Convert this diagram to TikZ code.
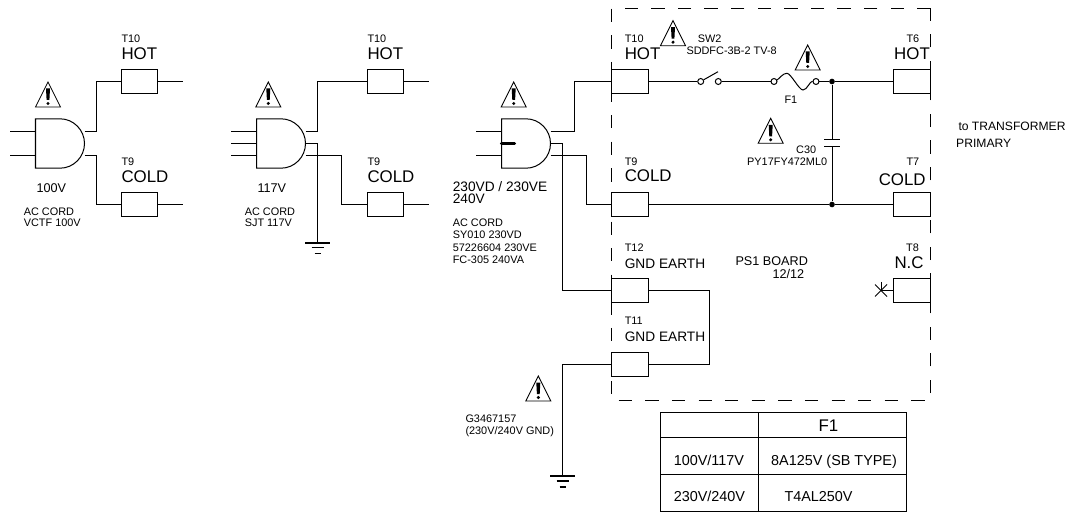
\documentclass[tikz,border=0pt]{standalone}
\usepackage{fontspec}
\setmainfont{Liberation Sans}
\tikzset{
	smalltxt/.style={anchor=base west, inner sep=0pt, font=\fontsize{6.2pt}{7pt}\selectfont},
	midtxt/.style={anchor=base west, inner sep=0pt, font=\fontsize{7.2pt}{8pt}\selectfont},
	sidetxt/.style={anchor=base west, inner sep=0pt, font=\fontsize{6.9pt}{8pt}\selectfont},
	gndtxt/.style={anchor=base west, inner sep=0pt, font=\fontsize{7.8pt}{9pt}\selectfont},
	tabtxt/.style={anchor=base west, inner sep=0pt, font=\fontsize{8.2pt}{9pt}\selectfont},
	bigtxt/.style={anchor=base west, inner sep=0pt, font=\fontsize{9.6pt}{10pt}\selectfont},
	termbox/.style={draw, minimum width=21.05pt, minimum height=14.1pt, inner sep=0pt},
	ring/.style={draw, circle, minimum size=3.4pt, inner sep=0pt},
	junction/.style={fill, circle, minimum size=3.2pt, inner sep=0pt},
	boardline/.style={line width=0.7pt, dash pattern=on 7.57pt off 7.57pt},
	warnsign/.pic={
		\draw[line width=0.5pt, line join=miter] (0,0) -- (12.5,25) -- (-12.5,25) -- cycle;
		\fill (-2,6.5) -- (2,6.5) -- (1.4,18) -- (-1.4,18) -- cycle;
		\fill (0,21.5) circle (1.7);
	},
	earthsym/.pic={
		\draw[line width=1pt] (-12.5,0) -- (12.5,0);
		\draw (-6,5) -- (6,5);
		\draw (-3,11) -- (3,11);
	},
	plugbody/.pic={
		\draw (0,-24.7) -- (24.5,-24.7) .. controls (38,-24.7) and (49,-13.5) .. (49,0)
			.. controls (49,13.5) and (38,24.7) .. (24.5,24.7) -- (0,24.7) -- cycle;
		\coordinate (-hot) at (49,-12);
		\coordinate (-mid) at (49,0);
		\coordinate (-cold) at (49,12);
		\coordinate (-inA) at (0,-12);
		\coordinate (-inB) at (0,0);
		\coordinate (-inC) at (0,12);
	}
}
\begin{document}
\begin{tikzpicture}[x=0.02cm, y=-0.02cm, line width=0.57pt]
	\useasboundingbox (0,0) rectangle (1080,517);
	% Platine
	\draw[boardline] (930.5,8.5) -- (611.5,8.5) -- (611.5,400.5) -- (930.5,400.5) -- cycle;
	% Warnzeichen
	\foreach \wx/\wy in {48/82, 268.3/82, 513.7/82, 673/20.7, 807.7/45, 770.7/118.3, 538.3/376}
		\pic at (\wx,\wy) {warnsign};
	% Stecker
	\pic (pa) at (35.5,143.5) {plugbody};
	\pic (pb) at (256.5,143.5) {plugbody};
	\pic (pc) at (501.5,143.5) {plugbody};
	% Klemmen
	\node[termbox] (tenA) at (139.5,81.5) {};
	\node[termbox] (nineA) at (139.5,204.5) {};
	\node[termbox] (tenB) at (385.5,81.5) {};
	\node[termbox] (nineB) at (385.5,204.5) {};
	\node[termbox] (tenC) at (630,81.5) {};
	\node[termbox] (nineC) at (630,204.5) {};
	\node[termbox] (twelve) at (630,290.5) {};
	\node[termbox] (eleven) at (630,364.5) {};
	\node[termbox] (six) at (911.8,81.5) {};
	\node[termbox] (seven) at (911.8,204.5) {};
	\node[termbox] (eight) at (911.8,290.5) {};
	% Stecker links
	\coordinate (inAa) at (10,131.5);
	\coordinate (inAb) at (10,155.5);
	\draw (inAa) -- (pa-inA);
	\draw (inAb) -- (pa-inC);
	\draw (pa-hot) -- ++(12,0) |- (tenA.west);
	\draw (pa-cold) -- ++(12,0) |- (nineA.west);
	\draw (tenA.east) -- ++(25,0) coordinate (endAa);
	\draw (nineA.east) -- ++(25,0) coordinate (endAb);
	% Stecker Mitte
	\coordinate (inBa) at (231,131.5);
	\coordinate (inBb) at (231,143.5);
	\coordinate (inBc) at (231,155.5);
	\draw (inBa) -- (pb-inA);
	\draw (inBb) -- (pb-inB);
	\draw (inBc) -- (pb-inC);
	\draw (pb-hot) -- ++(12,0) |- (tenB.west);
	\draw (pb-cold) -- ++(36,0) |- (nineB.west);
	\draw (tenB.east) -- ++(25,0) coordinate (endBa);
	\draw (nineB.east) -- ++(25,0) coordinate (endBb);
	\coordinate (gndB) at (317.5,242.7);
	\draw (pb-mid) -| (gndB);
	\pic at (gndB) {earthsym};
	% Stecker rechts
	\coordinate (inCa) at (476,131.5);
	\coordinate (inCb) at (476,155.5);
	\draw (inCa) -- (pc-inA);
	\draw (inCb) -- (pc-inC);
	\draw[line width=1.8pt, line cap=round] (pc-inB) -- ++(13,0);
	\draw (pc-hot) -- ++(24,0) |- (tenC.west);
	\draw (pc-cold) -- ++(36,0) |- (nineC.west);
	\coordinate (gndC) at (562.5,476);
	\draw (pc-mid) -| (gndC |- twelve.west) -- (twelve.west);
	\draw (twelve.east) -- ++(60.6,0) |- (eleven.east);
	\draw (eleven.west) -| (gndC);
	\pic at (gndC) {earthsym};
	% Schalter, Sicherung, Kondensator
	\node[ring] (swA) at (700.7,81.5) {};
	\node[ring] (swB) at (718.3,81.5) {};
	\node[ring] (fuA) at (774,81.5) {};
	\node[ring] (fuB) at (816,81.5) {};
	\node[junction] (dotA) at (832,81.5) {};
	\node[junction] (dotB) at (832,204.5) {};
	\coordinate (capA) at (832,139.5);
	\coordinate (capB) at (832,146.5);
	\draw (tenC.east) -- (swA);
	\draw (swA) -- (718,71.7);
	\draw (swB) -- (fuA);
	\draw (fuA) .. controls (779,79) and (783,73) .. (787,73.3)
		.. controls (791,73.5) and (799,90) .. (803,90)
		.. controls (807,90) and (810,81) .. (fuB);
	\draw (fuB) -- (dotA) -- (six.west);
	\draw (nineC.east) -- (dotB) -- (seven.west);
	\draw (dotA) -- (capA);
	\draw (capB) -- (dotB);
	\draw (824,139.5) -- (840,139.5);
	\draw (824,146.5) -- (840,146.5);
	% N.C Ende
	\coordinate (ncEnd) at (881,290.5);
	\draw (eight.west) -- (ncEnd);
	\draw (875,284.5) -- (887,296.5);
	\draw (887,284.5) -- (875,296.5);
	\draw (881,282) -- (ncEnd);
	% Beschriftung links
	\node[smalltxt] (lbAa) at (121,42.7) {T10};
	\node[bigtxt] (lbAb) at (121,59.3) {HOT};
	\node[smalltxt] (lbAc) at (121,165.7) {T9};
	\node[bigtxt] (lbAd) at (121,182.3) {COLD};
	\node[midtxt] (lbAe) at (36,192.3) {100V};
	\node[smalltxt] (lbAf) at (23.3,215) {AC CORD};
	\node[smalltxt] (lbAg) at (23.3,226.7) {VCTF 100V};
	% Beschriftung Mitte
	\node[smalltxt] (lbBa) at (367,42.7) {T10};
	\node[bigtxt] (lbBb) at (367,59.3) {HOT};
	\node[smalltxt] (lbBc) at (367,165.7) {T9};
	\node[bigtxt] (lbBd) at (367,182.3) {COLD};
	\node[midtxt] (lbBe) at (257,192.3) {117V};
	\node[smalltxt] (lbBf) at (244.3,215) {AC CORD};
	\node[smalltxt] (lbBg) at (244.3,226.7) {SJT 117V};
	% Beschriftung rechts
	\node[gndtxt] (lbCa) at (452.3,191.7) {230VD / 230VE};
	\node[gndtxt] (lbCb) at (452.3,204) {240V};
	\node[smalltxt] (lbCc) at (452.3,226.7) {AC CORD};
	\node[smalltxt] (lbCd) at (452.3,239) {SY010 230VD};
	\node[smalltxt] (lbCe) at (452.3,251.7) {57226604 230VE};
	\node[smalltxt] (lbCf) at (452.3,264) {FC-305 240VA};
	\node[smalltxt] (lbCg) at (465,422.7) {G3467157};
	\node[smalltxt] (lbCh) at (465,435) {(230V/240V GND)};
	% Beschriftung Platine
	\node[smalltxt] (lbDa) at (624.3,42.7) {T10};
	\node[bigtxt] (lbDb) at (624.3,59.3) {HOT};
	\node[smalltxt] (lbDc) at (624.3,165.7) {T9};
	\node[bigtxt] (lbDd) at (624.3,181.7) {COLD};
	\node[smalltxt] (lbDe) at (624.3,251.7) {T12};
	\node[gndtxt] (lbDf) at (624.3,268.3) {GND EARTH};
	\node[smalltxt] (lbDg) at (624.3,324.3) {T11};
	\node[gndtxt] (lbDh) at (624.3,341) {GND EARTH};
	\node[smalltxt] (lbDi) at (697.3,42.7) {SW2};
	\node[smalltxt] (lbDj) at (686,55) {SDDFC-3B-2 TV-8};
	\node[smalltxt] (lbDk) at (784,103.3) {F1};
	\node[smalltxt] (lbDl) at (795.7,153.7) {C30};
	\node[smalltxt] (lbDm) at (746.7,165.7) {PY17FY472ML0};
	\node[smalltxt] (lbDn) at (906,42.7) {T6};
	\node[bigtxt] (lbDo) at (893.7,59.3) {HOT};
	\node[smalltxt] (lbDp) at (906,165.7) {T7};
	\node[bigtxt] (lbDq) at (878.3,186) {COLD};
	\node[smalltxt] (lbDr) at (905.7,251.7) {T8};
	\node[bigtxt] (lbDs) at (894,268.3) {N.C};
	\node[midtxt] (lbDt) at (735,266) {PS1 BOARD};
	\node[midtxt] (lbDu) at (772,278) {12/12};
	\node[sidetxt] (lbEa) at (958,130.7) {to TRANSFORMER};
	\node[sidetxt] (lbEb) at (955.7,148) {PRIMARY};
	% Tabelle
	\draw (660.5,412.5) rectangle (906.5,511.5);
	\draw (758.5,412.5) -- (758.5,511.5);
	\draw (660.5,437.5) -- (906.5,437.5);
	\draw (660.5,474.5) -- (906.5,474.5);
	\node[bigtxt] (tabA) at (818,431) {F1};
	\node[tabtxt] (tabB) at (673.3,465) {100V/117V};
	\node[tabtxt] (tabC) at (770.7,465) {8A125V (SB TYPE)};
	\node[tabtxt] (tabD) at (673.3,501.7) {230V/240V};
	\node[tabtxt] (tabE) at (784,501.7) {T4AL250V};
\end{tikzpicture}
\end{document}
